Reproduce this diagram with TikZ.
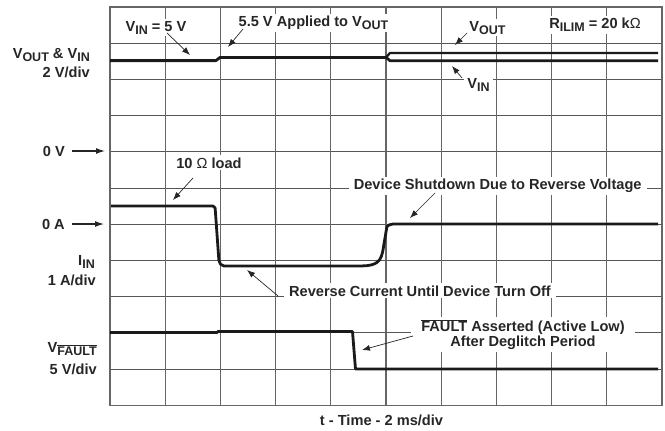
\documentclass[tikz,border=0pt]{standalone}
\usepackage{fontspec}
\setmainfont{Liberation Sans}
\usetikzlibrary{arrows.meta}
\definecolor{txt}{HTML}{262626}
\definecolor{gridv}{HTML}{666666}
\definecolor{gridh}{HTML}{555555}
\definecolor{tracec}{HTML}{1A1A1A}
\newcommand\sbs[1]{\raisebox{-3pt}{\fontsize{12.5}{12.5}\selectfont #1}}
\newcommand\ovl[1]{$\overline{\hbox{#1}}$}
\begin{document}
\begin{tikzpicture}[x=1pt,y=-1pt,
  every node/.style={font=\fontsize{14.6}{15}\selectfont\bfseries, text=txt, inner sep=0pt},
  wbox/.style={fill=white, inner xsep=3pt, inner ysep=2pt},
  gv/.style={draw=gridv, line width=1.2pt},
  gh/.style={draw=gridh, line width=0.9pt},
  trace/.style={draw=tracec, line width=2.8pt, line join=round},
  lead/.style={draw=txt, line width=0.7pt, -{Latex[length=8pt,width=6pt]}},
  axarr/.style={draw=txt, line width=1.2pt, -{Latex[length=9pt,width=6pt]}}]
\useasboundingbox (0,0) rectangle (665,431);
\fill[white] (0,0) rectangle (665,431);
% grid
\foreach \j in {1,...,10} \draw[gh] (110,7+36.21*\j) -- (662,7+36.21*\j);
\foreach \i in {1,...,9} \draw[gv] (110+55.2*\i,7) -- (110+55.2*\i,405.3);
\draw[draw=gridv, line width=1.5pt] (110,7) rectangle (662,405.3);
% traces
\draw[trace] (110,60.6) -- (216,60.6) -- (220,57.4) -- (386,57.4);
\draw[trace, line width=2.3pt] (386,57.4) -- (390,53) -- (658,53);
\draw[trace] (386,57.4) -- (390,60.7) -- (658,60.7);
\draw[trace, rounded corners=2pt] (111,206) -- (215,206) -- (219,262) -- (222,266) -- (355,266)
  .. controls (372,266) and (380,265) .. (383,250) -- (386,232) .. controls (387,226) .. (391,224) -- (658,224);
\draw[trace] (110,332.5) -- (217,332.5) -- (218,331.5) -- (352.5,331.5) -- (355.5,369) -- (658,369);
% left labels
\node[anchor=base east] (lVo) at (90,58) {V\sbs{OUT} \& V\sbs{IN}};
\node[anchor=base east] (lVd) at (90,77) {2 V/div};
\node[anchor=base east] (l0V) at (65,156) {0 V};
\node[anchor=base east] (l0A) at (65,229) {0 A};
\node[anchor=base east] (lI) at (95,265) {I\sbs{IN}};
\node[anchor=base east] (lId) at (96,285) {1 A/div};
\node[anchor=base east] (lF) at (97,352) {V\sbs{\ovl{FAULT}}};
\node[anchor=base east] (lFd) at (97,374) {5 V/div};
% plot labels
\node[wbox, anchor=base] (nVin) at (156,31) {V\sbs{IN} = 5 V};
\node[wbox, anchor=base] (n55) at (313.5,27) {5.5 V Applied to V\sbs{OUT}};
\node[wbox, anchor=base] (nVo) at (487.5,31) {V\sbs{OUT}};
\node[wbox, anchor=base] (nR) at (595,28.5) {R\sbs{ILIM} = 20 k{\mdseries Ω}};
\node[wbox, anchor=base] (nVi2) at (478.5,88.5) {V\sbs{IN}};
\node[wbox, anchor=base] (n10) at (209,168) {10 {\mdseries Ω} load};
\node[wbox, anchor=base, inner xsep=5pt] (nDev) at (497.7,189.5) {Device Shutdown Due to Reverse Voltage};
\node[wbox, anchor=base, inner xsep=5pt] (nRev) at (420,296) {Reverse Current Until Device Turn Off};
\node[wbox, align=center, inner xsep=10pt] (nF) at (523,334.5) {\ovl{FAULT} Asserted (Active Low)\\After Deglitch Period};
\node[anchor=base] (nT) at (381.5,425) {t - Time - 2 ms/div};
% arrow coordinates
\coordinate (s0V) at (72,151);  \coordinate (t0V) at (105,151);
\coordinate (s0A) at (72,224);  \coordinate (t0A) at (104,224);
\coordinate (sVin) at (167,33); \coordinate (tVin) at (190,55);
\coordinate (s55) at (243,29);  \coordinate (t55) at (228,47);
\coordinate (sVo) at (467,33);  \coordinate (tVo) at (455,45);
\coordinate (sVi2) at (462,78); \coordinate (tVi2) at (452,66);
\coordinate (s10) at (193,178); \coordinate (t10) at (173,200);
\coordinate (sDev) at (435,193); \coordinate (tDev) at (410,218);
\coordinate (sRev) at (278,296); \coordinate (tRev) at (247,270);
\coordinate (sF) at (413,336);  \coordinate (tF) at (362,350);
\draw[axarr] (s0V) -- (t0V);
\draw[axarr] (s0A) -- (t0A);
\draw[lead] (sVin) -- (tVin);
\draw[lead] (s55) -- (t55);
\draw[lead] (sVo) -- (tVo);
\draw[lead] (sVi2) -- (tVi2);
\draw[lead] (s10) -- (t10);
\draw[lead] (sDev) -- (tDev);
\draw[lead] (sRev) -- (tRev);
\draw[lead] (sF) -- (tF);
\end{tikzpicture}
\end{document}
